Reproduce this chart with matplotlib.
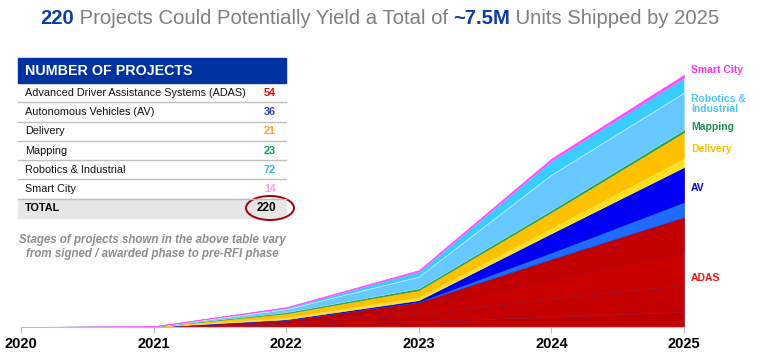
"""Proyeksi unit terkirim per segmen (stacked area) + tabel jumlah proyek."""
import matplotlib
matplotlib.use("Agg")
import matplotlib.pyplot as plt
from matplotlib.patches import Rectangle, Ellipse
import numpy as np

plt.rcParams["font.family"] = ["Liberation Sans", "DejaVu Sans"]

years = [2020, 2021, 2022, 2023, 2024, 2025]

# nilai dalam juta unit (beberapa sub-lapisan per segmen)
adas_a = [0, 0.003, 0.05, 0.18, 0.30, 0.45]
adas_b = [0, 0.003, 0.06, 0.22, 0.55, 0.80]
adas_c = [0, 0.002, 0.05, 0.18, 0.60, 1.00]
adas_d = [0, 0.002, 0.05, 0.16, 0.57, 1.02]
av_light = [0, 0.0, 0.01, 0.02, 0.20, 0.45]
av_dark = [0, 0.0, 0.01, 0.04, 0.57, 1.04]
delivery_a = [0, 0.002, 0.05, 0.08, 0.15, 0.25]
delivery_b = [0, 0.003, 0.13, 0.22, 0.48, 0.79]
mapping = [0, 0.001, 0.03, 0.05, 0.06, 0.07]
robotics_a = [0, 0.002, 0.09, 0.35, 1.05, 1.10]
robotics_b = [0, 0.001, 0.04, 0.15, 0.42, 0.45]
smart_city = [0, 0.001, 0.02, 0.04, 0.06, 0.08]

table_rows = ["Advanced Driver Assistance Systems (ADAS)", "Autonomous Vehicles (AV)",
              "Delivery", "Mapping", "Robotics & Industrial", "Smart City"]
table_counts = [54, 36, 21, 23, 72, 14]
table_colors = ["#FF0000", "#2B4BA8", "#FFA51F", "#00A550", "#33B0F0", "#FF99EE"]
total_projects = 220

side_labels = ["Smart City", "Robotics &\nIndustrial", "Mapping", "Delivery", "AV", "ADAS"]
side_colors = ["#FF33EE", "#4CC8F5", "#1A9050", "#FFC000", "#0000EE", "#FF1010"]
side_y = [70, 104, 127, 149, 188, 278]  # px dari atas

W, H = 773, 352
fig = plt.figure(figsize=(W / 100, H / 100), dpi=100)


def fx(px):
    return px / W


def fy(py):
    return 1 - py / H


# ---- area chart ----
ax = fig.add_axes([fx(21), fy(327), fx(684) - fx(21), fy(58) - fy(327)])
layers = [adas_a, adas_b, adas_c, adas_d, av_light, av_dark, delivery_a, delivery_b,
          mapping, robotics_a, robotics_b, smart_city]
colors = ["#C00000", "#C40000", "#C80000", "#C20000", "#1F6BFF", "#0000F5",
          "#FFE020", "#FFC000", "#1FA050", "#66C8FF", "#38CCFF", "#FF44FF"]
edges = ["#9A1030", "#9A1030", "#9A1030", "#A00010", "#1A4FE0", "#0000D0",
         "#FFF060", "#FFD040", "#1FA050", "#9ADFFF", "#CFF0FF", "#FF55FF"]
polys = ax.stackplot(years, *layers, colors=colors)
for p, ec in zip(polys, edges):
    p.set_edgecolor(ec)
    p.set_linewidth(0.5)
ax.set_xlim(2020, 2025)
ax.set_ylim(0, 8)
for s in ["top", "right", "left"]:
    ax.spines[s].set_visible(False)
ax.spines["bottom"].set_color("#BFBFBF")
ax.spines["bottom"].set_linewidth(0.8)
ax.set_yticks([])
ax.set_xticks(years)
ax.set_xticklabels([str(y) for y in years], fontsize=10.5, fontweight="bold")
ax.tick_params(axis="x", colors="#BFBFBF", length=4, pad=3, labelcolor="black")
ax.patch.set_alpha(0)

for lab, c, y in zip(side_labels, side_colors, side_y):
    fig.text(fx(691), fy(y), lab, color=c, fontsize=7.5, fontweight="bold",
             va="center", ha="left", linespacing=1.0)

# ---- judul berwarna ----
parts = [("220", "#0B3BA8", "bold"),
         (" Projects Could Potentially Yield a Total of ", "#7F7F7F", "normal"),
         ("~7.5M", "#0B3BA8", "bold"),
         (" Units Shipped by 2025", "#7F7F7F", "normal")]
renderer = fig.canvas.get_renderer()
texts = []
for s, c, w in parts:
    t = fig.text(0, fy(18), s, color=c, fontweight=w, fontsize=14.6, va="center", ha="left")
    texts.append(t)
widths = [t.get_window_extent(renderer).width for t in texts]
x = 40
for t, w in zip(texts, widths):
    t.set_x(fx(x))
    x += w

# ---- tabel ----
left, right = 18, 286
fig.patches.append(Rectangle((fx(left), fy(83)), fx(right) - fx(left), fy(58) - fy(83),
                             transform=fig.transFigure, color="#0033A0", zorder=1))
fig.text(fx(25), fy(71), "NUMBER OF PROJECTS", color="white", fontsize=10.3,
         fontweight="bold", va="center")
row_top = 83
row_h = 19.3
for i, (name, n, c) in enumerate(zip(table_rows, table_counts, table_colors)):
    yc = row_top + row_h * (i + 0.5)
    fig.text(fx(25), fy(yc), name, fontsize=7.8, va="center", color="#111111")
    fig.text(fx(276), fy(yc), str(n), fontsize=7.8, va="center", ha="right",
             color=c, fontweight="bold")
    yb = row_top + row_h * (i + 1)
    fig.add_artist(plt.Line2D([fx(left), fx(right)], [fy(yb), fy(yb)],
                              color="#BFBFBF", lw=1.0))
ty0 = row_top + row_h * 6
fig.patches.append(Rectangle((fx(left), fy(ty0 + row_h)), fx(right) - fx(left),
                             fy(ty0) - fy(ty0 + row_h), transform=fig.transFigure,
                             color="#E6E6E6", zorder=0))
yc = ty0 + row_h / 2
fig.text(fx(25), fy(yc), "TOTAL", fontsize=7.8, va="center", fontweight="bold")
fig.text(fx(276), fy(yc), str(total_projects), fontsize=8.5, va="center", ha="right",
         fontweight="bold")
fig.patches.append(Ellipse((fx(270), fy(208)), fx(48), fy(0) - fy(24),
                           transform=fig.transFigure, fill=False, ec="#A00010", lw=1.4))

fig.text(fx(152), fy(247), "Stages of projects shown in the above table vary\n"
         "from signed / awarded phase to pre-RFI phase", color="#8C8C8C",
         fontsize=8.3, fontstyle="italic", fontweight="bold", ha="center",
         va="center", linespacing=1.15)

fig.savefig("out.png", dpi=100)
